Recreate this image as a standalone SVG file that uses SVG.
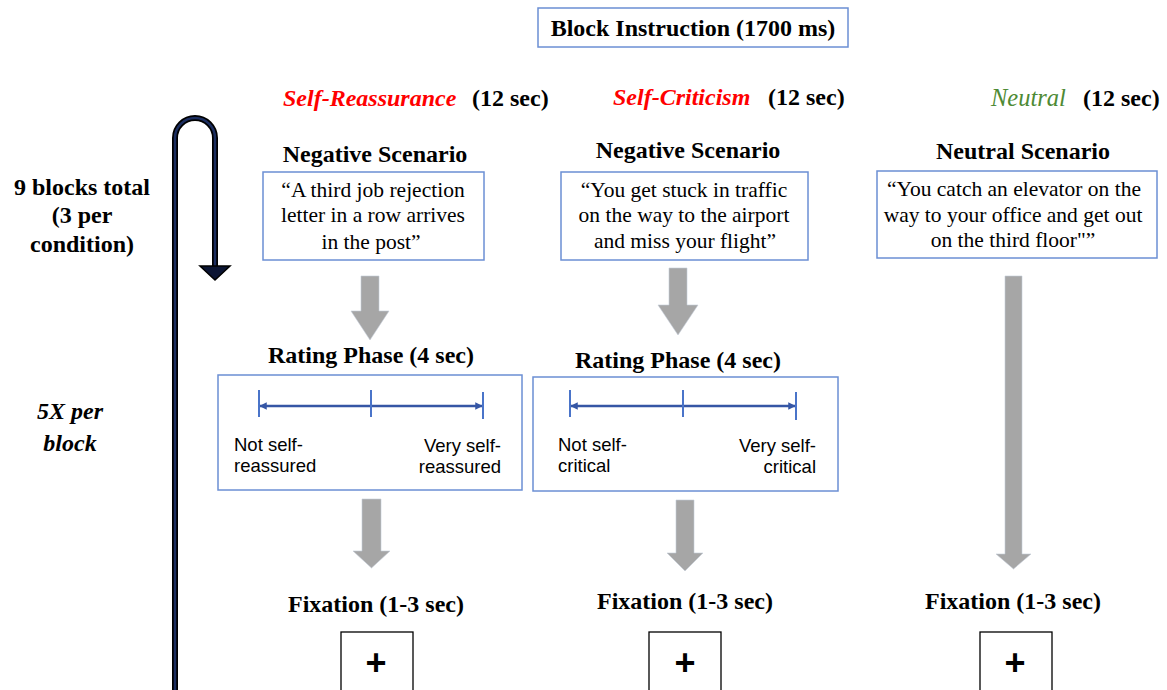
<svg xmlns="http://www.w3.org/2000/svg" width="1167" height="690" viewBox="0 0 1167 690">
<style>
.hb{font-family:"Liberation Serif","Times New Roman",serif;font-weight:bold;font-size:24px;fill:#000}
.bi{font-family:"Liberation Serif","Times New Roman",serif;font-weight:bold;font-style:italic;font-size:24px}
.sc{font-family:"Liberation Serif","Times New Roman",serif;font-size:21.5px;fill:#000;text-anchor:middle}
.rt{font-family:"Liberation Sans",Arial,sans-serif;font-size:18.5px;fill:#000}
.bx{fill:#fff;stroke:#6b8fd4;stroke-width:1.5}
.fx{fill:#fff;stroke:#000;stroke-width:1.3}
.plus{font-family:"Liberation Sans",Arial,sans-serif;font-weight:bold;font-size:36px;text-anchor:middle}
.ga{fill:#a6a6a6;stroke:#c4ccd8;stroke-width:0.6}
.sl{stroke:#3556a5;stroke-width:2.5}
.tk{stroke:#4a74c9;stroke-width:2}
.mid{text-anchor:middle}
.end{text-anchor:end}
</style>
<defs>
<marker id="sa" viewBox="0 0 10 10" refX="9" refY="5" markerWidth="3" markerHeight="3" orient="auto-start-reverse">
<path d="M0,0 L10,5 L0,10 z" fill="#3556a5"/>
</marker>
</defs>
<rect width="1167" height="690" fill="#fff"/>

<g id="block-instruction">
<rect class="bx" x="538" y="8" width="310" height="39"/>
<text class="hb mid" x="693" y="36">Block Instruction (1700 ms)</text>
</g>

<g id="labels">
<text class="bi" x="283" y="106" fill="#ff0000">Self-Reassurance</text>
<text class="hb" x="472" y="106">(12 sec)</text>
<text class="bi" x="613" y="105" fill="#ff0000">Self-Criticism</text>
<text class="hb" x="768" y="105">(12 sec)</text>
<text x="991" y="106" font-family="Liberation Serif, Times New Roman, serif" font-style="italic" font-size="24.5" fill="#4e8a34">Neutral</text>
<text class="hb" x="1083" y="106">(12 sec)</text>
<text class="hb mid" x="82" y="195">9 blocks total</text>
<text class="hb mid" x="82" y="223">(3 per</text>
<text class="hb mid" x="82" y="252">condition)</text>
<text class="bi mid" x="70" y="419" fill="#000">5X per</text>
<text class="bi mid" x="70" y="451" fill="#000">block</text>
</g>

<g id="loop-arrow">
<path d="M175,690 L175,138 A20,20 0 0 1 215,138 L215,267" fill="none" stroke="#000" stroke-width="6"/>
<path d="M175,690 L175,138 A20,20 0 0 1 215,138 L215,267" fill="none" stroke="#1c2e60" stroke-width="2.5"/>
<polygon points="200,266 230,266 215,280" fill="#0c1533" stroke="#000" stroke-width="1.5"/>
</g>

<g id="col1-scenario">
<text class="hb mid" x="375" y="162">Negative Scenario</text>
<rect class="bx" x="263" y="172" width="221" height="88"/>
<text class="sc" x="373" y="197">“A third job rejection</text>
<text class="sc" x="373" y="222">letter in a row arrives</text>
<text class="sc" x="371" y="249">in the post”</text>
</g>

<g id="col1-rating">
<text class="hb mid" x="371" y="363">Rating Phase (4 sec)</text>
<rect class="bx" x="218" y="375" width="304" height="115"/>
<line class="sl" x1="260" y1="406" x2="482" y2="406" marker-start="url(#sa)" marker-end="url(#sa)"/>
<line class="tk" x1="259" y1="390" x2="259" y2="417"/>
<line class="tk" x1="371" y1="390" x2="371" y2="417"/>
<line class="tk" x1="483" y1="392" x2="483" y2="419"/>
<text class="rt" x="234" y="451">Not self-</text>
<text class="rt" x="234" y="472">reassured</text>
<text class="rt end" x="501" y="452">Very self-</text>
<text class="rt end" x="501" y="473">reassured</text>
</g>

<g id="col1-fixation">
<text class="hb mid" x="376" y="612">Fixation (1-3 sec)</text>
<rect class="fx" x="341" y="632" width="72" height="70"/>
<text class="plus" x="376" y="675">+</text>
</g>

<g id="col2-scenario">
<text class="hb mid" x="688" y="158">Negative Scenario</text>
<rect class="bx" x="561" y="172" width="247" height="88"/>
<text class="sc" x="684" y="197">“You get stuck in traffic</text>
<text class="sc" x="684" y="222">on the way to the airport</text>
<text class="sc" x="685" y="248">and miss your flight”</text>
</g>

<g id="col2-rating">
<text class="hb mid" x="678" y="368">Rating Phase (4 sec)</text>
<rect class="bx" x="533" y="377" width="305" height="114"/>
<line class="sl" x1="571" y1="406" x2="795" y2="406" marker-start="url(#sa)" marker-end="url(#sa)"/>
<line class="tk" x1="570" y1="390" x2="570" y2="417"/>
<line class="tk" x1="683" y1="390" x2="683" y2="417"/>
<line class="tk" x1="796" y1="392" x2="796" y2="420"/>
<text class="rt" x="558" y="451">Not self-</text>
<text class="rt" x="558" y="472">critical</text>
<text class="rt end" x="816" y="452">Very self-</text>
<text class="rt end" x="816" y="473">critical</text>
</g>

<g id="col2-fixation">
<text class="hb mid" x="685" y="609">Fixation (1-3 sec)</text>
<rect class="fx" x="649" y="632" width="72" height="70"/>
<text class="plus" x="685" y="675">+</text>
</g>

<g id="col3-scenario">
<text class="hb mid" x="1023" y="159">Neutral Scenario</text>
<rect class="bx" x="877" y="171" width="280" height="87"/>
<text class="sc" x="1014" y="196">“You catch an elevator on the</text>
<text class="sc" x="1013" y="222">way to your office and get out</text>
<text class="sc" x="1013" y="247">on the third floor"”</text>
</g>

<g id="col3-fixation">
<text class="hb mid" x="1013" y="609">Fixation (1-3 sec)</text>
<rect class="fx" x="980" y="632" width="72" height="70"/>
<text class="plus" x="1015" y="675">+</text>
</g>

<g id="connectors">
<polygon class="ga" points="361,276 379,276 379,311 389,311 370,340 351,311 361,311"/>
<polygon class="ga" points="362,499 381,499 381,551 390,551 371.5,568 353,551 362,551"/>
<polygon class="ga" points="669,268 687,268 687,305 698,305 678,335 658,305 669,305"/>
<polygon class="ga" points="676,500 694,500 694,553 703,553 685,571 667,553 676,553"/>
<polygon class="ga" points="1005,276 1022,276 1022,554 1031,554 1013.5,569 996,554 1005,554"/>
</g>
</svg>
